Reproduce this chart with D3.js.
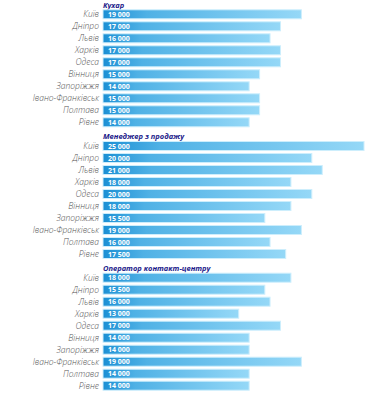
<!DOCTYPE html>
<html>
<head>
<meta charset="utf-8">
<script src="https://cdn.jsdelivr.net/npm/d3@7"></script>
<style>
  body { margin: 0; background: #fff; }
  svg { display: block; }
</style>
</head>
<body>
<svg id="chart" width="375" height="394"></svg>
<script>
"use strict";

const cities = ["Київ", "Дніпро", "Львів", "Харків", "Одеса", "Вінниця",
  "Запоріжжя", "Івано-Франківськ", "Полтава", "Рівне"];
const jobTitles = ["Кухар", "Менеджер з продажу", "Оператор контакт-центру"];
const cookSalary = [19000, 17000, 16000, 17000, 17000, 15000, 14000, 15000, 15000, 14000];
const salesSalary = [25000, 20000, 21000, 18000, 20000, 18000, 15500, 19000, 16000, 17500];
const callSalary = [18000, 15500, 16000, 13000, 17000, 14000, 14000, 19000, 14000, 14000];

const groups = [cookSalary, salesSalary, callSalary].map((values, i) => ({
  title: jobTitles[i],
  rows: values.map((v, j) => ({ city: cities[j], value: v }))
}));

const svg = d3.select("#chart");
const fmt = (v) => d3.format(",")(v).replace(",", " ");

const x = d3.scaleLinear().domain([0, 25000]).range([103, 364]);
const section = d3.scaleBand().domain(jobTitles).range([8.3, 403.4]);
// step of 12px, bar 9px high
const row = d3.scaleBand().domain(cities).range([0, 120]).paddingInner(0.25).paddingOuter(0.125);

const defs = svg.append("defs");
const grad = defs.append("linearGradient")
  .attr("id", "barGrad")
  .attr("x1", "0%").attr("x2", "100%");
grad.append("stop").attr("offset", "0%").attr("stop-color", "#1b8fd4");
grad.append("stop").attr("offset", "22%").attr("stop-color", "#4fb1e5");
grad.append("stop").attr("offset", "100%").attr("stop-color", "#95d8f7");

const block = svg.selectAll("g.section")
  .data(groups)
  .enter()
  .append("g")
  .attr("class", "section")
  .attr("transform", (g) => `translate(0,${section(g.title)})`);

block.append("text")
  .text((g) => g.title)
  .attr("x", 103)
  .attr("y", -0.6)
  .style("font-family", "'Open Sans', sans-serif")
  .style("font-size", "7.5px")
  .style("font-weight", "bold")
  .style("font-style", "italic")
  .style("fill", "#1c1a8a");

const rows = block.selectAll("g.row")
  .data((g) => g.rows)
  .enter()
  .append("g")
  .attr("class", "row")
  .attr("transform", (d) => `translate(0,${row(d.city)})`);

rows.append("rect")
  .attr("x", x(0))
  .attr("y", 0)
  .attr("width", (d) => x(d.value) - x(0))
  .attr("height", row.bandwidth())
  .attr("fill", "url(#barGrad)")
  .attr("stroke", "#cdeefc")
  .attr("stroke-width", 1);

rows.append("text")
  .text((d) => fmt(d.value))
  .attr("x", x(0) + 5)
  .attr("y", row.bandwidth() / 2)
  .attr("dy", "0.36em")
  .style("font-family", "'Open Sans', sans-serif")
  .style("font-size", "7px")
  .style("font-weight", "bold")
  .style("fill", "#fff");

rows.append("text")
  .text((d) => d.city)
  .attr("x", 99)
  .attr("y", row.bandwidth() / 2)
  .attr("dy", "0.36em")
  .attr("text-anchor", "end")
  .style("font-family", "'Open Sans', sans-serif")
  .style("font-size", "8.5px")
  .style("font-weight", 300)
  .style("font-style", "italic")
  .style("fill", "#555");
</script>
</body>
</html>
